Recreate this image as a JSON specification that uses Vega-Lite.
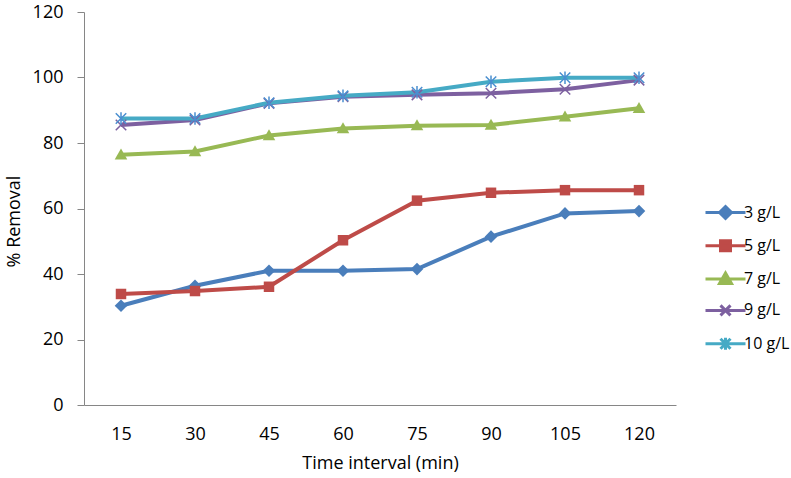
{
  "$schema": "https://vega.github.io/schema/vega-lite/v6.json",
  "width": 592,
  "height": 393,
  "autosize": {"type": "none"},
  "padding": {"left": 84, "top": 12, "right": 115, "bottom": 73},
  "background": "white",
  "config": {
    "view": {"stroke": null},
    "font": "Open Sans",
    "axis": {"labelFont": "Open Sans", "titleFont": "Open Sans", "labelColor": "#000000", "titleColor": "#000000", "titleFontWeight": "normal", "domainColor": "#868686", "tickColor": "#868686", "grid": false}
  },
  "data": {
    "values": [
      {"time": "15", "series": "3 g/L", "value": 30.3},
      {"time": "30", "series": "3 g/L", "value": 36.4},
      {"time": "45", "series": "3 g/L", "value": 41.0},
      {"time": "60", "series": "3 g/L", "value": 41.0},
      {"time": "75", "series": "3 g/L", "value": 41.5},
      {"time": "90", "series": "3 g/L", "value": 51.4},
      {"time": "105", "series": "3 g/L", "value": 58.5},
      {"time": "120", "series": "3 g/L", "value": 59.2},
      {"time": "15", "series": "5 g/L", "value": 33.9},
      {"time": "30", "series": "5 g/L", "value": 34.8},
      {"time": "45", "series": "5 g/L", "value": 36.1},
      {"time": "60", "series": "5 g/L", "value": 50.3},
      {"time": "75", "series": "5 g/L", "value": 62.4},
      {"time": "90", "series": "5 g/L", "value": 64.8},
      {"time": "105", "series": "5 g/L", "value": 65.6},
      {"time": "120", "series": "5 g/L", "value": 65.6},
      {"time": "15", "series": "7 g/L", "value": 76.4},
      {"time": "30", "series": "7 g/L", "value": 77.4},
      {"time": "45", "series": "7 g/L", "value": 82.3},
      {"time": "60", "series": "7 g/L", "value": 84.4},
      {"time": "75", "series": "7 g/L", "value": 85.3},
      {"time": "90", "series": "7 g/L", "value": 85.5},
      {"time": "105", "series": "7 g/L", "value": 88.0},
      {"time": "120", "series": "7 g/L", "value": 90.6},
      {"time": "15", "series": "9 g/L", "value": 85.5},
      {"time": "30", "series": "9 g/L", "value": 87.0},
      {"time": "45", "series": "9 g/L", "value": 92.1},
      {"time": "60", "series": "9 g/L", "value": 94.1},
      {"time": "75", "series": "9 g/L", "value": 94.7},
      {"time": "90", "series": "9 g/L", "value": 95.2},
      {"time": "105", "series": "9 g/L", "value": 96.4},
      {"time": "120", "series": "9 g/L", "value": 99.2},
      {"time": "15", "series": "10 g/L", "value": 87.5},
      {"time": "30", "series": "10 g/L", "value": 87.5},
      {"time": "45", "series": "10 g/L", "value": 92.3},
      {"time": "60", "series": "10 g/L", "value": 94.4},
      {"time": "75", "series": "10 g/L", "value": 95.5},
      {"time": "90", "series": "10 g/L", "value": 98.7},
      {"time": "105", "series": "10 g/L", "value": 99.9},
      {"time": "120", "series": "10 g/L", "value": 99.9}
    ]
  },
  "encoding": {
    "x": {
      "field": "time", "type": "ordinal", "sort": null,
      "scale": {"type": "point", "padding": 0.5},
      "axis": {"title": "Time interval (min)", "labelAngle": 0, "ticks": false, "labelFontSize": 18, "titleFontSize": 18, "labelPadding": 20, "titlePadding": 11, "domainWidth": 1}
    },
    "y": {
      "field": "value", "type": "quantitative",
      "scale": {"domain": [0, 120], "nice": false},
      "axis": {"title": "% Removal", "values": [0, 20, 40, 60, 80, 100, 120], "tickSize": 7, "labelPadding": 14, "labelFontSize": 18, "titleFontSize": 18, "titleX": -70, "titleY": 209, "titleAngle": -90, "titleAlign": "center", "titleBaseline": "middle"}
    }
  },
  "layer": [
    {
      "mark": {"type": "line", "strokeWidth": 4},
      "encoding": {
        "color": {
          "field": "series", "type": "nominal",
          "scale": {"domain": ["3 g/L", "5 g/L", "7 g/L", "9 g/L", "10 g/L"], "range": ["#4A7EBB", "#BE4B48", "#98B954", "#7D60A0", "#46AAC5"]},
          "legend": {
            "title": null, "orient": "none", "legendX": 620, "legendY": 189,
            "symbolSize": 400, "symbolOffset": 10, "labelOffset": 7, "rowPadding": 9.3, "padding": 0,
            "labelFont": "Open Sans", "labelFontSize": 16, "labelColor": "#000000",
            "encode": {
              "symbols": {
                "update": {
                  "shape": {"signal": "datum.value === '3 g/L' ? 'M-2,0H2M0,-0.6L0.6,0L0,0.6L-0.6,0Z' : datum.value === '5 g/L' ? 'M-2,0H2M-0.5,-0.5H0.5V0.5H-0.5Z' : datum.value === '7 g/L' ? 'M-2,0H2M0,-0.6L0.6,0.45L-0.6,0.45Z' : datum.value === '9 g/L' ? 'M-2,0H2M-0.5,-0.5L0.5,0.5M-0.5,0.5L0.5,-0.5' : 'M-2,0H2M-0.5,-0.5L0.5,0.5M-0.5,0.5L0.5,-0.5M0,-0.6L0,0.6'"},
                  "fill": {"scale": "color", "field": "value"},
                  "stroke": {"scale": "color", "field": "value"},
                  "strokeWidth": {"value": 3}
                }
              }
            }
          }
        }
      }
    },
    {
      "transform": [{"filter": "datum.series === '3 g/L'"}],
      "mark": {"type": "point", "filled": true, "size": 110, "strokeWidth": 1, "opacity": 1, "shape": "M0,-1.2L1.2,0L0,1.2L-1.2,0Z", "color": "#4A7EBB"}
    },
    {
      "transform": [{"filter": "datum.series === '5 g/L'"}],
      "mark": {"type": "point", "filled": true, "size": 110, "strokeWidth": 1, "opacity": 1, "shape": "M-1,-1H1V1H-1Z", "color": "#BE4B48"}
    },
    {
      "transform": [{"filter": "datum.series === '7 g/L'"}],
      "mark": {"type": "point", "filled": true, "size": 110, "strokeWidth": 1, "opacity": 1, "shape": "M0,-1.2L1.2,0.9L-1.2,0.9Z", "color": "#98B954"}
    },
    {
      "transform": [{"filter": "datum.series === '9 g/L'"}],
      "mark": {"type": "point", "filled": false, "size": 110, "strokeWidth": 1.5, "opacity": 1, "shape": "M-1,-1L1,1M-1,1L1,-1", "color": "#7D60A0"}
    },
    {
      "transform": [{"filter": "datum.series === '10 g/L'"}],
      "mark": {"type": "point", "filled": false, "size": 110, "strokeWidth": 1.5, "opacity": 1, "shape": "M-1,-1L1,1M-1,1L1,-1M0,-1.2L0,1.2", "color": "#4A8FD0"}
    }
  ]
}
